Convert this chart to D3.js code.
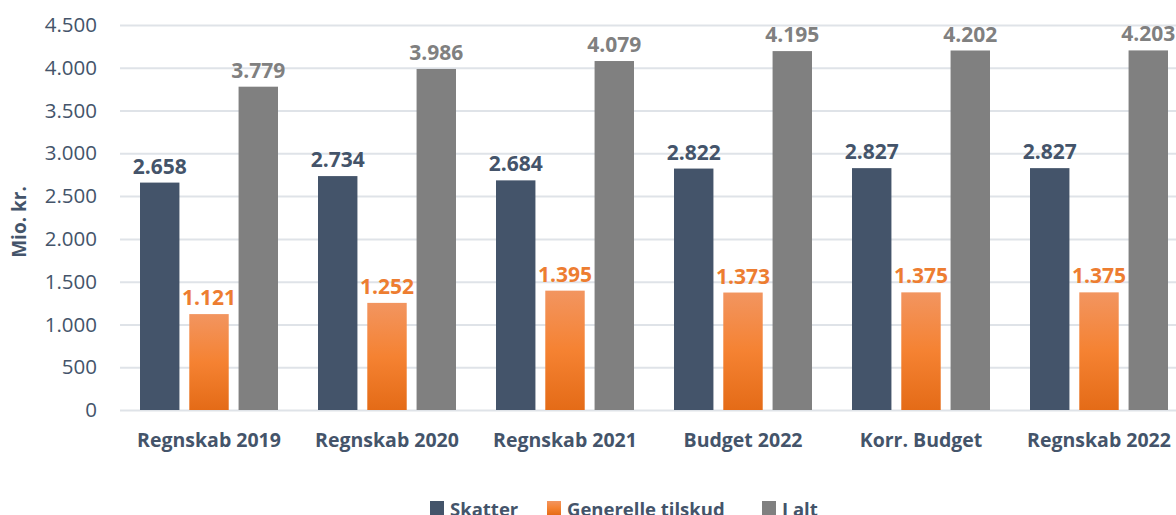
<!DOCTYPE html>
<html>
<head>
<meta charset="utf-8">
<script src="https://cdn.jsdelivr.net/npm/d3@7"></script>
<style>
	body { margin: 0; background: #ffffff; }
	svg { display: block; font-family: "Open Sans", sans-serif; }
</style>
</head>
<body>
<svg id="chart" width="1176" height="515"></svg>
<script>
var windowW = 1176;
var windowH = 515;

// data
var categories = ["Regnskab 2019", "Regnskab 2020", "Regnskab 2021", "Budget 2022", "Korr. Budget", "Regnskab 2022"];
var seriesNames = ["Skatter", "Generelle tilskud", "I alt"];
var skatter = [2658, 2734, 2684, 2822, 2827, 2827];
var tilskud = [1121, 1252, 1395, 1373, 1375, 1375];
var iAlt = [3779, 3986, 4079, 4195, 4202, 4203];
var yTicks = [0, 500, 1000, 1500, 2000, 2500, 3000, 3500, 4000, 4500];

var seriesValues = [skatter, tilskud, iAlt];

var slateColor = "#44546a";
var orangeColor = "#ed7d31";
var grayColor = "#808080";
var gridColor = "#dfe3e8";

var margin = {top: 25, left: 120, bottom: 105};
var plotW = 1068;
var plotH = windowH - margin.top - margin.bottom;

var svg = d3.select("#chart");

//////// gradient for the orange bars
var defs = svg.append("defs");
var grad = defs.append("linearGradient")
	.attr("id", "orangeGrad")
	.attr("x1", 0).attr("y1", 0).attr("x2", 0).attr("y2", 1);
grad.append("stop").attr("offset", "0%").attr("stop-color", "#f29560");
grad.append("stop").attr("offset", "50%").attr("stop-color", "#f58232");
grad.append("stop").attr("offset", "100%").attr("stop-color", "#e46b17");

var fills = [slateColor, "url(#orangeGrad)", grayColor];
var labelColors = [slateColor, orangeColor, grayColor];

var y = d3.scaleLinear()
	.domain([0, 4500])
	.range([plotH, 0]);

var x0 = d3.scaleBand()
	.domain(categories)
	.range([0, plotW])
	.padding(0);

var x1 = d3.scaleBand()
	.domain(seriesNames)
	.range([20, x0.bandwidth() - 20])
	.paddingInner(0.2);

var dotFormat = function(d) { return d3.format(",")(d).replace(/,/g, "."); };

var g = svg.append("g")
	.attr("transform", "translate(" + margin.left + "," + margin.top + ")");

//////// gridlines
var yAxis = d3.axisLeft(y)
	.tickValues(yTicks)
	.tickSize(-plotW)
	.tickPadding(23)
	.tickFormat(dotFormat);

var yG = g.append("g").call(yAxis);
yG.select(".domain").remove();
yG.selectAll(".tick line")
	.attr("stroke", gridColor)
	.attr("stroke-width", 2);
yG.selectAll(".tick text")
	.attr("fill", slateColor)
	.style("font-size", "20.5px")
	.style("font-family", "'Open Sans', sans-serif");

//////// bars
var groups = g.selectAll(".catGroup")
	.data(categories)
	.enter().append("g")
	.attr("class", "catGroup")
	.attr("transform", function(d) { return "translate(" + x0(d) + ",0)"; });

seriesNames.forEach(function(s, si) {
	groups.append("rect")
		.attr("x", x1(s))
		.attr("width", x1.bandwidth())
		.attr("y", function(d, i) { return y(seriesValues[si][i]); })
		.attr("height", function(d, i) { return plotH - y(seriesValues[si][i]); })
		.attr("fill", fills[si]);

	groups.append("text")
		.attr("x", x1(s) + x1.bandwidth() / 2)
		.attr("y", function(d, i) { return y(seriesValues[si][i]) - 9; })
		.attr("text-anchor", "middle")
		.attr("fill", labelColors[si])
		.style("font-size", "21px")
		.style("font-weight", "bold")
		.text(function(d, i) { return dotFormat(seriesValues[si][i]); });
});

//////// category labels
var xAxis = d3.axisBottom(x0).tickSize(0).tickPadding(23);
var xG = g.append("g")
	.attr("transform", "translate(0," + plotH + ")")
	.call(xAxis);
xG.select(".domain").remove();
xG.selectAll(".tick text")
	.attr("fill", slateColor)
	.style("font-size", "19.5px")
	.style("font-weight", "bold")
	.style("font-family", "'Open Sans', sans-serif");

//////// axis title
svg.append("text")
	.attr("transform", "translate(26," + (margin.top + 197) + ") rotate(-90)")
	.attr("text-anchor", "middle")
	.attr("fill", slateColor)
	.style("font-size", "19px")
	.style("font-weight", "bold")
	.text("Mio. kr.");

//////// legend
var legendX = [430, 547, 762];
var legend = svg.selectAll(".legendItem")
	.data(seriesNames)
	.enter().append("g")
	.attr("class", "legendItem")
	.attr("transform", function(d, i) { return "translate(" + legendX[i] + ",0)"; });

legend.append("rect")
	.attr("x", 0)
	.attr("y", 501)
	.attr("width", 14)
	.attr("height", 14)
	.attr("fill", function(d, i) { return fills[i]; });

legend.append("text")
	.attr("x", 20)
	.attr("y", 516)
	.attr("fill", slateColor)
	.style("font-size", "18.5px")
	.style("font-weight", "bold")
	.text(function(d) { return d; });
</script>
</body>
</html>
